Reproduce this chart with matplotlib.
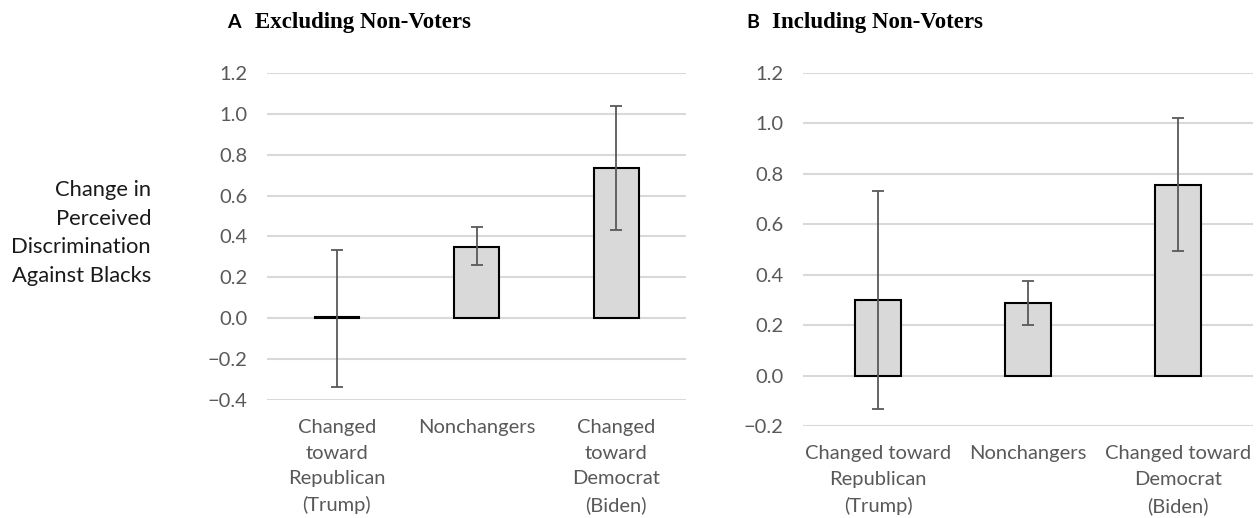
import matplotlib.pyplot as plt

# Panel A: excluding non-voters
cats_a = ['Changed\ntoward\nRepublican\n(Trump)', 'Nonchangers', 'Changed\ntoward\nDemocrat\n(Biden)']
vals_a = [0.005, 0.35, 0.735]
lo_a = [-0.335, 0.26, 0.43]
hi_a = [0.335, 0.445, 1.04]

# Panel B: including non-voters
cats_b = ['Changed toward\nRepublican\n(Trump)', 'Nonchangers', 'Changed toward\nDemocrat\n(Biden)']
vals_b = [0.30, 0.288, 0.755]
lo_b = [-0.131, 0.202, 0.493]
hi_b = [0.731, 0.374, 1.02]

ticks_a = [-0.4, -0.2, 0.0, 0.2, 0.4, 0.6, 0.8, 1.0, 1.2]
ticks_b = [-0.2, 0.0, 0.2, 0.4, 0.6, 0.8, 1.0, 1.2]

plt.rcParams['font.family'] = ['Lato', 'DejaVu Sans']

fig = plt.figure(figsize=(12.56, 5.18), dpi=100)
ax1 = fig.add_axes([0.2126, 0.228, 0.3336, 0.631])
ax2 = fig.add_axes([0.6393, 0.1776, 0.3583, 0.6814])


def draw(ax, cats, vals, lo, hi, ticks, width):
    x = list(range(len(cats)))
    err = [[v - l for v, l in zip(vals, lo)], [h - v for v, h in zip(vals, hi)]]
    ax.bar(x, vals, width=width, color='#d9d9d9', edgecolor='black', linewidth=1.5, zorder=2)
    ax.errorbar(x, vals, yerr=err, fmt='none', ecolor='#595959', elinewidth=1.3,
                capsize=4, capthick=1.3, zorder=3)
    ax.set_xlim(-0.5, len(cats) - 0.5)
    ax.set_ylim(ticks[0], ticks[-1])
    ax.set_yticks(ticks)
    ax.set_yticklabels(['\u2212%.1f' % -t if t < 0 else '%.1f' % t for t in ticks])
    ax.set_xticks(x)
    ax.set_xticklabels(cats, linespacing=1.6)
    ax.yaxis.grid(True, color='#d9d9d9', linewidth=1.5, zorder=0)
    ax.set_axisbelow(True)
    for s in ax.spines.values():
        s.set_visible(False)
    ax.tick_params(axis='both', length=0, labelsize=14.5, colors='#595959')
    ax.tick_params(axis='x', pad=14)
    ax.tick_params(axis='y', pad=14)


draw(ax1, cats_a, vals_a, lo_a, hi_a, ticks_a, 0.32)
draw(ax2, cats_b, vals_b, lo_b, hi_b, ticks_b, 0.31)

fig.text(151 / 1256, 1 - 233 / 518, 'Change in\nPerceived\nDiscrimination\nAgainst Blacks',
         ha='right', va='center', fontsize=15.8, color='#1a1a1a', linespacing=1.55)

# panel titles
fig.text(227 / 1256, 1 - 28 / 518, 'A', fontsize=14, fontweight='bold', va='baseline')
fig.text(255 / 1256, 1 - 28 / 518, 'Excluding Non-Voters', fontsize=16.5, fontweight='bold',
         family='Liberation Serif', va='baseline')
fig.text(746 / 1256, 1 - 28 / 518, 'B', fontsize=14, fontweight='bold', va='baseline')
fig.text(772 / 1256, 1 - 28 / 518, 'Including Non-Voters', fontsize=16.5, fontweight='bold',
         family='Liberation Serif', va='baseline')

fig.savefig('out.png', dpi=100)
